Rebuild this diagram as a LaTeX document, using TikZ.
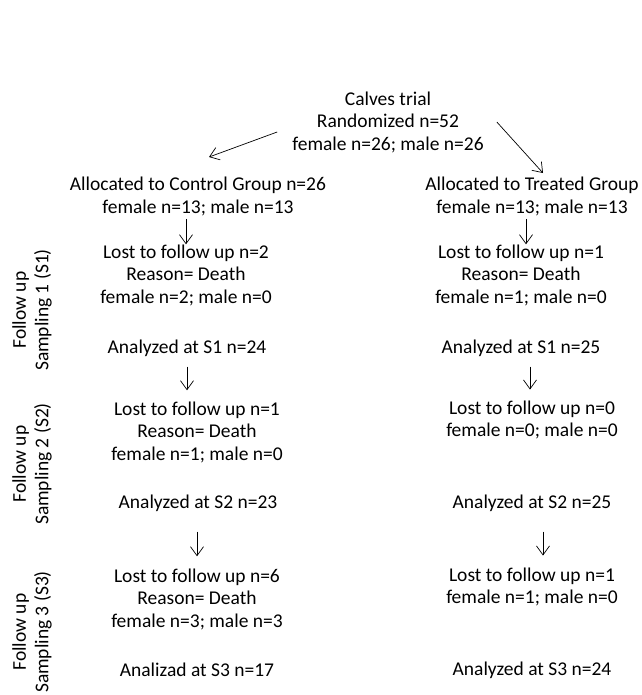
\documentclass[tikz,border=0pt]{standalone}
\usepackage{fontspec}
\setmainfont{Carlito}
\usetikzlibrary{arrows.meta,positioning}

\begin{document}
\begin{tikzpicture}[x=1pt, y=-1pt,
  txt/.style={inner sep=0pt, align=center, font=\fontsize{19.5}{22.5}\selectfont},
  side/.style={txt, rotate=90},
  flow/.style={-{Straight Barb[length=9pt,width=13pt]}, line width=0.7pt}]
\useasboundingbox (0,0) rectangle (641,695);
% Randomization
\node[txt] (rand) at (388,122) {Calves trial\\Randomized n=52\\female n=26; male n=26};
% Control group
\node[txt] (ctrlalloc) at (198,196.5) {Allocated to Control Group n=26\\female n=13; male n=13};
\node[txt] (ctrlloss1) at (186,275) {Lost to follow up n=2\\Reason= Death\\female n=2; male n=0};
\node[txt] (ctrlan1) at (187,348) {Analyzed at S1 n=24};
\node[txt] (ctrlloss2) at (197,432) {Lost to follow up n=1\\Reason= Death\\female n=1; male n=0};
\node[txt] (ctrlan2) at (198,503) {Analyzed at S2 n=23};
\node[txt] (ctrlloss3) at (197,599) {Lost to follow up n=6\\Reason= Death\\female n=3; male n=3};
\node[txt] (ctrlan3) at (197,670) {Analizad at S3 n=17};
% Treated group
\node[txt] (trtalloc) at (532,196.5) {Allocated to Treated Group\\female n=13; male n=13};
\node[txt] (trtloss1) at (521,275) {Lost to follow up n=1\\Reason= Death\\female n=1; male n=0};
\node[txt] (trtan1) at (521,348) {Analyzed at S1 n=25};
\node[txt] (trtloss2) at (532,420) {Lost to follow up n=0\\female n=0; male n=0};
\node[txt] (trtan2) at (532,503) {Analyzed at S2 n=25};
\node[txt] (trtloss3) at (532,587) {Lost to follow up n=1\\female n=1; male n=0};
\node[txt] (trtan3) at (532,670) {Analyzed at S3 n=24};
% Sampling periods
\node[side] (samp1) at (32,310) {Follow up\\Sampling 1 (S1)};
\node[side] (samp2) at (32,464) {Follow up\\Sampling 2 (S2)};
\node[side] (samp3) at (32,632) {Follow up\\Sampling 3 (S3)};
% Split arrows
\draw[flow] ([shift={(-15,10)}]rand.west) -- ([shift={(11,-20)}]ctrlalloc.north);
\draw[flow] ([shift={(13,0)}]rand.east) -- ([shift={(11,-4)}]trtalloc.north);
% Control arrows
\draw[flow, shorten <=3pt] (ctrlalloc.south -| ctrlloss1.north) -- (ctrlloss1.north);
\draw[flow, shorten <=10pt, shorten >=11pt] (ctrlan1.south) -- (ctrlan1.south |- ctrlloss2.north);
\draw[flow, shorten <=20pt, shorten >=12pt] (ctrlan2.south -| ctrlloss3.north) -- (ctrlloss3.north);
% Treated arrows
\draw[flow, shorten <=3pt] ([xshift=-6pt]trtalloc.south) -- ([xshift=-6pt]trtalloc.south |- trtloss1.north);
\draw[flow, shorten <=10pt, shorten >=11pt] ([xshift=9pt]trtan1.south) -- ([xshift=9pt]trtan1.south |- trtloss2.north);
\draw[flow, shorten <=20pt, shorten >=12pt] ([xshift=11pt]trtan2.south) -- ([xshift=11pt]trtan2.south |- trtloss3.north);
\end{tikzpicture}
\end{document}
